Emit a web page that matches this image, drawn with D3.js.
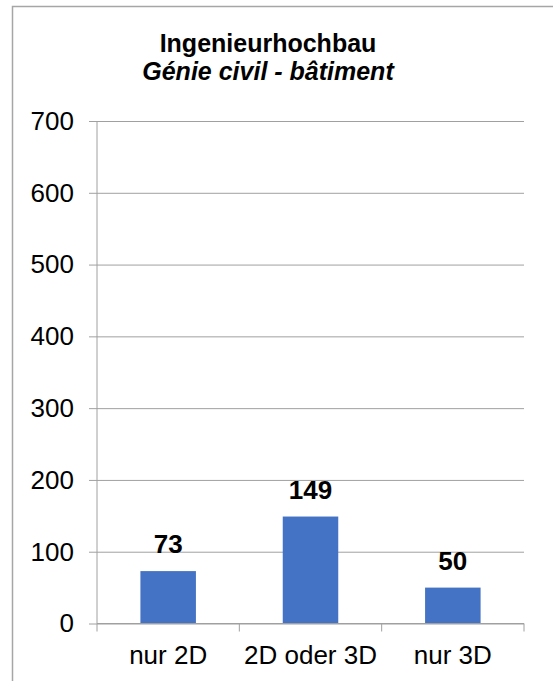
<!DOCTYPE html>
<html>
<head>
<meta charset="utf-8">
<script src="https://cdn.jsdelivr.net/npm/d3@7"></script>
<style>
  body { margin: 0; background: #fff; }
  text { font-family: Arial, "Liberation Sans", sans-serif; }
</style>
</head>
<body>
<script>
var WIDTH = 553;
var HEIGHT = 681;

var categories = ['nur 2D', '2D oder 3D', 'nur 3D'];
var values = [73, 149, 50];
var yTicks = [0, 100, 200, 300, 400, 500, 600, 700];
var titleLine1 = 'Ingenieurhochbau';
var titleLine2 = 'Génie civil - bâtiment';

var BAR_COLOR = '#4472C4';
var GRID_COLOR = '#a0a0a0';

// plot box (window.top is reserved, so no plain "top")
var PLOT = { left: 97, right: 524, top: 121, bottom: 623.5 };

var svg = d3.select('body')
    .append('svg')
        .attr('width', WIDTH)
        .attr('height', HEIGHT);

// outer frame (right and bottom edges run off the picture)
svg.append('rect')
    .attr('x', 12.5)
    .attr('y', 6.5)
    .attr('width', 600)
    .attr('height', 700)
    .style('fill', 'none')
    .style('stroke', '#a6a6a6')
    .style('stroke-width', 1.5);

svg.append('text')
    .attr('x', 268)
    .attr('y', 52)
    .attr('text-anchor', 'middle')
    .style('font-size', '25px')
    .style('font-weight', 'bold')
    .text(titleLine1);

svg.append('text')
    .attr('x', 268)
    .attr('y', 80)
    .attr('text-anchor', 'middle')
    .style('font-size', '25px')
    .style('font-weight', 'bold')
    .style('font-style', 'italic')
    .text(titleLine2);

var x = d3.scaleBand()
    .domain(categories)
    .range([PLOT.left, PLOT.right])
    .paddingInner(0.61)
    .paddingOuter(0.305);

var y = d3.scaleLinear()
    .domain([0, 700])
    .range([PLOT.bottom, PLOT.top]);

// gridlines + y ticks
var yAxis = svg.append('g')
    .attr('transform', 'translate(' + PLOT.left + ',0)')
    .call(d3.axisLeft(y).tickValues(yTicks).tickSize(8).tickPadding(15));
yAxis.select('.domain').remove();
yAxis.selectAll('.tick line').attr('stroke', GRID_COLOR);
yAxis.selectAll('.tick').append('line')
    .attr('x1', 0)
    .attr('x2', PLOT.right - PLOT.left)
    .attr('stroke', GRID_COLOR);
yAxis.selectAll('.tick text')
    .style('font-size', '26px')
    .attr('fill', '#000');

// vertical axis line
svg.append('line')
    .attr('x1', PLOT.left).attr('x2', PLOT.left)
    .attr('y1', PLOT.top).attr('y2', PLOT.bottom)
    .attr('stroke', GRID_COLOR);

svg.selectAll('rect.bar')
    .data(values)
    .enter()
    .append('rect')
        .attr('class', 'bar')
        .attr('x', function (d, i) { return x(categories[i]); })
        .attr('y', function (d) { return y(d); })
        .attr('width', x.bandwidth())
        .attr('height', function (d) { return PLOT.bottom - y(d); })
        .style('fill', BAR_COLOR);

// x axis with category separators
var xAxis = svg.append('g')
    .attr('transform', 'translate(0,' + PLOT.bottom + ')');
xAxis.append('line')
    .attr('x1', PLOT.left).attr('x2', PLOT.right)
    .attr('stroke', GRID_COLOR);
var sep = [PLOT.left].concat(categories.map(function (c) { return x(c) + x.bandwidth() / 2 + x.step() / 2; }));
xAxis.selectAll('line.sep')
    .data(sep)
    .enter()
    .append('line')
        .attr('class', 'sep')
        .attr('x1', function (d) { return d; })
        .attr('x2', function (d) { return d; })
        .attr('y1', 0).attr('y2', 8)
        .attr('stroke', GRID_COLOR);
xAxis.selectAll('text')
    .data(categories)
    .enter()
    .append('text')
        .attr('x', function (d) { return x(d) + x.bandwidth() / 2; })
        .attr('y', 40)
        .attr('text-anchor', 'middle')
        .style('font-size', '26px')
        .text(function (d) { return d; });

// value labels
svg.selectAll('text.val')
    .data(values)
    .enter()
    .append('text')
        .attr('class', 'val')
        .attr('x', function (d, i) { return x(categories[i]) + x.bandwidth() / 2; })
        .attr('y', function (d) { return y(d) - 18; })
        .attr('text-anchor', 'middle')
        .style('font-size', '26px')
        .style('font-weight', 'bold')
        .text(function (d) { return d; });
</script>
</body>
</html>
